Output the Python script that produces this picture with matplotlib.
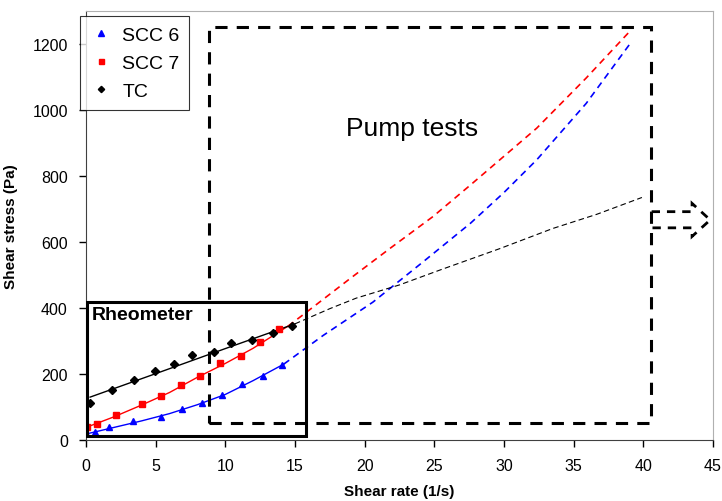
import matplotlib.pyplot as plt
from matplotlib.patches import Rectangle, Polygon

plt.rcParams['font.family'] = ['Liberation Sans', 'DejaVu Sans']

# Rheometer measurements
scc6_x = [0.0, 0.65, 1.67, 3.4, 5.41, 6.89, 8.3, 9.73, 11.2, 12.68, 14.05]
scc6_y = [20, 25, 39, 57, 70, 93, 111, 136, 171, 195, 226]
scc7_x = [0.1, 0.77, 2.15, 4.04, 5.36, 6.81, 8.17, 9.63, 11.1, 12.46, 13.86]
scc7_y = [40, 47, 76, 110, 132, 168, 195, 234, 255, 296, 336]
tc_x = [0.29, 1.89, 3.47, 4.93, 6.32, 7.61, 9.21, 10.4, 11.92, 13.4, 14.79]
tc_y = [111, 153, 182, 208, 230, 258, 266, 293, 302, 324, 344]

# Fitted curves (solid inside rheometer range)
scc6_fit_x = [0, 2, 4, 6, 8, 10, 12, 14.2]
scc6_fit_y = [18, 38, 58, 80, 107, 138, 180, 230]
scc7_fit_x = [0, 2, 4, 6, 8, 10, 12, 14.5]
scc7_fit_y = [38, 70, 106, 144, 190, 232, 278, 345]
tc_fit_x = [0.3, 5, 10, 15]
tc_fit_y = [130, 201, 277, 352]

# Extrapolated curves (dashed)
scc6_ext_x = [14.2, 17.03, 20.6, 24.2, 27.6, 30.0, 32.35, 35.9, 39.1]
scc6_ext_y = [230, 317, 418, 540, 657, 750, 849, 1020, 1204]
scc7_ext_x = [14.5, 15.6, 18.95, 21.8, 24.9, 27.6, 32.35, 35.9, 38.93]
scc7_ext_y = [345, 380, 489, 580, 677, 773, 945, 1097, 1234]
tc_ext_x = [15, 17.5, 19.4, 22.5, 25.4, 29.7, 33.5, 36.66, 39.9]
tc_ext_y = [352, 398, 430, 470, 515, 580, 641, 684, 735]

fig = plt.figure(figsize=(7.22, 5.02), dpi=100)
ax = fig.add_axes([0.119, 0.1215, 0.8685, 0.8545])

ax.plot(scc6_fit_x, scc6_fit_y, color='blue', lw=1.0)
ax.plot(scc7_fit_x, scc7_fit_y, color='red', lw=1.0)
ax.plot(tc_fit_x, tc_fit_y, color='black', lw=1.0)
ax.plot(scc6_ext_x, scc6_ext_y, color='blue', lw=1.2, dashes=(4, 3))
ax.plot(scc7_ext_x, scc7_ext_y, color='red', lw=1.2, dashes=(4, 3))
ax.plot(tc_ext_x, tc_ext_y, color='black', lw=0.8, dashes=(5, 3))

ax.plot(scc6_x, scc6_y, '^', color='blue', ms=5, ls='none', label='SCC 6')
ax.plot(scc7_x, scc7_y, 's', color='red', ms=4.5, ls='none', label='SCC 7')
ax.plot(tc_x, tc_y, 'D', color='black', ms=4, ls='none', label='TC')

# Rheometer box
ax.add_patch(Rectangle((0.05, 12), 15.75, 405, fill=False, ec='black', lw=2.2, zorder=5))
ax.text(0.4, 407, 'Rheometer', fontsize=14, fontweight='bold', va='top', ha='left')

# Pump tests box
ax.add_patch(Rectangle((8.8, 52), 31.75, 1200, fill=False, ec='black', lw=2.2,
                       ls=(0, (4, 3)), zorder=5))
ax.text(23.4, 945, 'Pump tests', fontsize=19, ha='center', va='center')

# dashed arrow to the right
ax.add_patch(Polygon([(40.6, 692), (43.5, 692), (43.5, 717), (44.8, 667),
                      (43.5, 617), (43.5, 643), (40.6, 643)], closed=False,
                     fill=False, ec='black', lw=2.0, ls=(0, (3, 2.5)), clip_on=False))

ax.set_xlim(0, 45)
ax.set_ylim(0, 1300)
ax.set_xticks(range(0, 46, 5))
ax.set_yticks(range(0, 1201, 200))
ax.tick_params(direction='out', length=5, width=1, labelsize=11.5, pad=8)
ax.set_xlabel('Shear rate (1/s)', fontsize=11, fontweight='bold', labelpad=8)
ax.set_ylabel('Shear stress (Pa)', fontsize=11, fontweight='bold', labelpad=10)

for s in ['top', 'right']:
    ax.spines[s].set_color('#b0b0b0')
for s in ['left', 'bottom']:
    ax.spines[s].set_color('#404040')

leg = ax.legend(loc='upper left', bbox_to_anchor=(-0.01, 0.988), fontsize=14,
                frameon=True, fancybox=False, edgecolor='black', handlelength=1.2,
                handletextpad=0.5, borderpad=0.5, labelspacing=0.55, markerscale=0.8,
                borderaxespad=0)
leg.get_frame().set_linewidth(0.8)

fig.savefig('out.png', dpi=100)
